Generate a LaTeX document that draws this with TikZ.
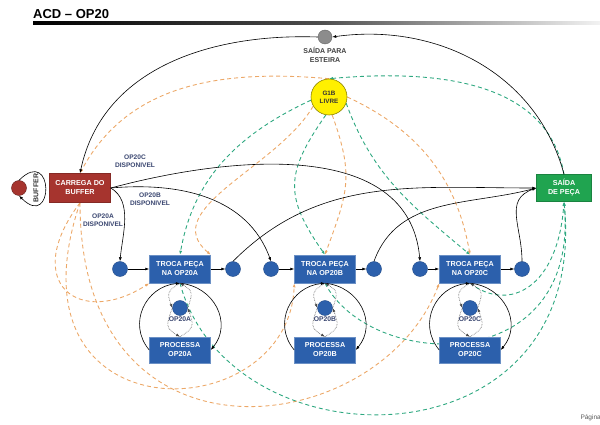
\documentclass[tikz,border=0pt]{standalone}
\usepackage{fontspec}
\setmainfont{Liberation Sans}
\usetikzlibrary{arrows.meta,backgrounds}

\definecolor{acdblue}{RGB}{44,96,172}
\definecolor{acdred}{RGB}{166,52,46}
\definecolor{acdgreen}{RGB}{32,164,80}
\definecolor{acdyellow}{RGB}{255,240,0}
\definecolor{acdorange}{RGB}{236,168,104}
\definecolor{acdteal}{RGB}{46,168,128}
\definecolor{acdlabel}{RGB}{58,70,112}

\begin{document}
\begin{tikzpicture}[x=1pt, y=1pt, font=\bfseries\fontsize{7.2}{9}\selectfont,
  >={Latex[length=4pt,width=3pt]},
  activity/.style={rectangle, fill=acdblue, draw=acdblue!70!white, line width=0.5pt, text=white, align=center, minimum width=61pt, minimum height=28pt, inner sep=1pt},
  queue/.style={circle, fill=acdblue, draw=acdblue!80!black, line width=0.4pt, minimum size=15pt, inner sep=0pt},
  flow/.style={->, line width=0.6pt},
  cycle/.style={->, densely dotted, line width=0.6pt, black!70},
  orangeflow/.style={->, acdorange, line width=0.9pt, dash pattern=on 4pt off 3pt},
  tealflow/.style={->, acdteal, line width=0.9pt, dash pattern=on 4pt off 3pt},
  avail/.style={text=acdlabel, align=center, font=\bfseries\fontsize{6.6}{8}\selectfont}
]
  \useasboundingbox (0,0) rectangle (600,-425);

  % Title
  \node[anchor=base west, inner sep=0pt, font=\bfseries\fontsize{13}{15}\selectfont] (title) at (33,-19) {ACD – OP20};
  \shade[left color=black, right color=black!5, middle color=black!70] (33,-22) rectangle (600,-25);

  % Define queues and activities
  \node[circle, fill=black!45, draw=black!60, minimum size=14pt, inner sep=0pt] (esteira) at (325,-37) {};
  \node[text=black!75, align=center, font=\bfseries\fontsize{7}{9}\selectfont] (esteiralbl) at (325,-55) {SAÍDA PARA\\ESTEIRA};
  \node[circle, fill=acdyellow, draw=acdyellow!55!black, line width=0.6pt, minimum size=36pt, inner sep=0pt, align=center, text=black!80, font=\bfseries\fontsize{6.3}{8}\selectfont] (g1b) at (329,-97) {G1B\\LIVRE};
  \node[activity, fill=acdred, draw=acdred!80!black, minimum height=29pt] (carrega) at (80,-188) {CARREGA DO\\BUFFER};
  \node[circle, fill=acdred, draw=acdred!60!black, minimum size=15pt, inner sep=0pt] (buffer) at (19,-188) {};
  \node[rotate=90, text=black!80, font=\bfseries\fontsize{7}{8}\selectfont] (bufferlbl) at (36,-188) {BUFFER};
  \node[activity, fill=acdgreen, draw=acdgreen!80!black, minimum width=55pt, minimum height=27pt] (saida) at (564,-188) {SAÍDA\\DE PEÇA};

  % Stations OP20A, OP20B, OP20C
  \foreach \s/\x/\xi/\xo in {A/180/120/233, B/325/271/374, C/470/420/522} {
    \node[activity] (troca\s) at (\x,-269) {TROCA PEÇA\\NA OP20\s};
    \node[activity, minimum height=26pt] (proc\s) at (\x,-350) {PROCESSA\\OP20\s};
    \node[queue] (op\s) at (\x,-308) {};
    \node[text=acdlabel, font=\bfseries\fontsize{6.8}{8}\selectfont] (oplbl\s) at (\x,-319) {OP20\s};
    \node[queue] (in\s) at (\xi,-269) {};
    \node[queue] (out\s) at (\xo,-269) {};
    \draw[flow] (in\s) -- (troca\s);
    \draw[flow] (troca\s) -- (out\s);
    \draw[flow] (proc\s.west) to[out=130, in=185, looseness=1.2] (troca\s.south);
    \draw[flow] (troca\s.south) to[out=-5, in=50, looseness=1.2] (proc\s.east);
    \draw[cycle] (troca\s.south) to[out=-150, in=110, looseness=1.5] (op\s.west);
    \draw[cycle] (op\s.west) to[out=-110, in=150, looseness=1.5] (proc\s.north);
    \draw[cycle] (proc\s.north) to[out=30, in=-70, looseness=1.5] (op\s.east);
    \draw[cycle] (op\s.east) to[out=70, in=-30, looseness=1.5] (troca\s.south);
  }

  % Draw part flow
  \draw[flow] (buffer.north) to[out=45, in=-45, distance=50pt] (buffer.south);
  \draw[flow] (esteira.west) to[out=178, in=78] (carrega.north);
  \draw[flow] (saida.north) to[out=105, in=8] (esteira.east);
  \draw[flow] (carrega.east) to[out=-30, in=85, looseness=0.9] (inA.north);
  \draw[flow] (carrega.east) to[out=5, in=110] (inB.north);
  \draw[flow] (carrega.east) to[out=15, in=95] (inC.north);
  \draw[flow] (outA.north) to[out=45, in=180] (saida.west);
  \draw[flow] (outB.north) to[out=70, in=195] (saida.west);
  \draw[flow] (outC.north) to[out=90, in=200, looseness=1.2] (saida.west);

  \node[avail] (availC) at (135,-161) {OP20C\\DISPONIVEL};
  \node[avail] (availB) at (150,-199) {OP20B\\DISPONIVEL};
  \node[avail] (availA) at (103,-220) {OP20A\\DISPONIVEL};

  % Draw G1B flow
  \begin{scope}[on background layer]
    \draw[orangeflow] (g1b.north) to[out=175, in=62] (carrega.north);
    \draw[orangeflow] (g1b.210) to[out=240, in=140] (trocaA.north east);
    \draw[orangeflow] (g1b.280) to[out=-70, in=70, looseness=1.2] (trocaB.north);
    \draw[orangeflow] (g1b.east) to[out=-25, in=100] (trocaC.north);
    \draw[orangeflow] (carrega.south) .. controls +(-60,-80) and +(-70,-45) .. (trocaA.south west);
    \draw[orangeflow] (carrega.south) .. controls +(-80,-237) and +(-5,-147) .. (trocaB.south west);
    \draw[orangeflow] (carrega.south) .. controls +(0,-277) and +(-60,-157) .. (trocaC.south west);
    \draw[tealflow] (saida.north) to[out=100, in=5] (g1b.north);
    \draw[tealflow] (g1b.190) to[out=205, in=80] (trocaA.north);
    \draw[tealflow] (g1b.260) to[out=-125, in=125, looseness=1.3] (trocaB.north);
    \draw[tealflow] (g1b.340) to[out=-70, in=140] (trocaC.north);
    \draw[tealflow] (trocaA.south) .. controls +(50,-187) and +(26,-268) .. (saida.south);
    \draw[tealflow] (trocaB.south) .. controls +(45,-87) and +(16,-178) .. (saida.south);
    \draw[tealflow] (trocaC.south) .. controls +(40,-30) and +(-6,-85) .. (saida.south);
  \end{scope}

  \node[anchor=west, text=black!65, font=\fontsize{6.5}{8}\selectfont] (pagina) at (577,-418) {Página};
\end{tikzpicture}
\end{document}
